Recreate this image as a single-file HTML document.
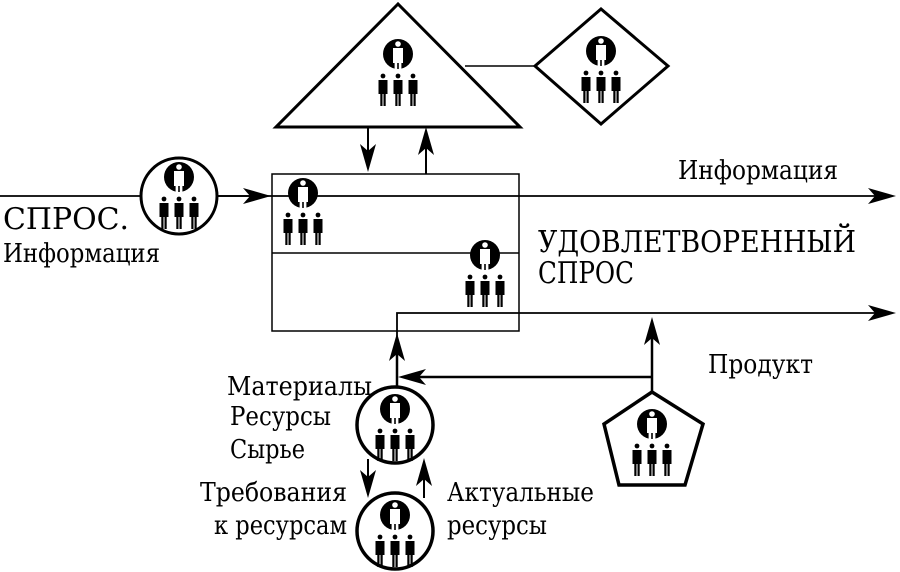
<!DOCTYPE html>
<html><head><meta charset="utf-8"><style>
html,body{margin:0;padding:0;background:#fff;}
svg{display:block}
text{font-family:"DejaVu Serif","Liberation Serif",serif;fill:#000}
</style></head><body>
<svg width="900" height="572" viewBox="0 0 900 572" xmlns="http://www.w3.org/2000/svg">
<defs>
<g id="fig">
  <circle cx="0" cy="2" r="2.4" fill="#000"/>
  <path d="M-4.5,6 h9 v14 h-1.8 v12 h-2.2 v-12 h-1 v12 h-2.2 v-12 h-1.8 z" fill="#000"/>
</g>
<g id="ic">
  <circle cx="0" cy="-19" r="15" fill="#000"/>
  <circle cx="0" cy="-29" r="2.8" fill="#fff"/>
  <path d="M-5,-25 h10 v15 h-1.6 v14 h-2.6 v-14 h-1.6 v14 h-2.6 v-14 h-1.6 z" fill="#fff"/>
  <use href="#fig" x="-15" y="1"/>
  <use href="#fig" x="0" y="1"/>
  <use href="#fig" x="15" y="1"/>
</g>
<path id="ar" d="M0,0 L-28,-8 L-21,0 L-28,8 z" fill="#000"/>
</defs>
<g stroke="#000" fill="none">
  <polygon points="398,4 276,127 520,127" stroke-width="3" fill="#fff"/>
  <line x1="465" y1="66" x2="535" y2="66" stroke-width="1.5"/>
  <polygon points="535,66 601,9 668,66 601,124" stroke-width="3" fill="#fff"/>
  <line x1="368" y1="127" x2="368" y2="160" stroke-width="2"/>
  <line x1="426" y1="174" x2="426" y2="140" stroke-width="2"/>
  <rect x="272" y="174" width="247" height="157" stroke-width="1.5"/>
  <line x1="272" y1="253" x2="519" y2="253" stroke-width="1.5"/>
  <line x1="0" y1="196" x2="880" y2="196" stroke-width="1.8"/>
  <line x1="217" y1="196" x2="255" y2="196" stroke-width="1.8"/>
  <circle cx="179" cy="196" r="38" stroke-width="3" fill="#fff"/>
  <polyline points="397,390 397,313 880,313" stroke-width="1.8"/>
  <line x1="397" y1="390" x2="397" y2="345" stroke-width="2.5"/>
  <line x1="652" y1="392" x2="652" y2="330" stroke-width="2.5"/>
  <line x1="652" y1="377" x2="410" y2="377" stroke-width="2.5"/>
  <polygon points="652,392 703,424 685,485 619,485 604,424" stroke-width="3.5" fill="#fff"/>
  <line x1="368" y1="459" x2="368" y2="485" stroke-width="2"/>
  <line x1="424" y1="498" x2="424" y2="470" stroke-width="2"/>
  <circle cx="395" cy="425" r="38" stroke-width="3.5" fill="#fff"/>
  <circle cx="395" cy="531" r="38" stroke-width="3.5" fill="#fff"/>
</g>
<use href="#ar" transform="translate(368,172) rotate(90)"/>
<use href="#ar" transform="translate(426,127) rotate(-90)"/>
<use href="#ar" transform="translate(896,196)"/>
<use href="#ar" transform="translate(271,196)"/>
<use href="#ar" transform="translate(896,313)"/>
<use href="#ar" transform="translate(397,333) rotate(-90)"/>
<use href="#ar" transform="translate(652,317) rotate(-90)"/>
<use href="#ar" transform="translate(398,377) rotate(180)"/>
<use href="#ar" transform="translate(368,498) rotate(90)"/>
<use href="#ar" transform="translate(424,458) rotate(-90)"/>
<use href="#ic" x="398" y="73"/>
<use href="#ic" x="601" y="70"/>
<use href="#ic" x="179" y="196"/>
<use href="#ic" x="303" y="212"/>
<use href="#ic" x="485" y="274"/>
<use href="#ic" x="395" y="428"/>
<use href="#ic" x="395" y="534"/>
<use href="#ic" x="652" y="443"/>
<text x="3" y="229" font-size="30" textLength="126" lengthAdjust="spacingAndGlyphs">СПРОС.</text>
<text x="3" y="262" font-size="26" textLength="157" lengthAdjust="spacingAndGlyphs">Информация</text>
<text x="678" y="179" font-size="26" textLength="160" lengthAdjust="spacingAndGlyphs">Информация</text>
<text x="538" y="252" font-size="30" textLength="318" lengthAdjust="spacingAndGlyphs">УДОВЛЕТВОРЕННЫЙ</text>
<text x="538" y="283" font-size="30" textLength="96" lengthAdjust="spacingAndGlyphs">СПРОС</text>
<text x="708" y="373" font-size="26" textLength="105" lengthAdjust="spacingAndGlyphs">Продукт</text>
<text x="227" y="395" font-size="26" textLength="145" lengthAdjust="spacingAndGlyphs">Материалы</text>
<text x="230" y="425" font-size="26" textLength="101" lengthAdjust="spacingAndGlyphs">Ресурсы</text>
<text x="230" y="458" font-size="26" textLength="75" lengthAdjust="spacingAndGlyphs">Сырье</text>
<text x="200" y="501" font-size="26" textLength="147" lengthAdjust="spacingAndGlyphs">Требования</text>
<text x="214" y="534" font-size="26" textLength="133" lengthAdjust="spacingAndGlyphs">к ресурсам</text>
<text x="447" y="501" font-size="26" textLength="147" lengthAdjust="spacingAndGlyphs">Актуальные</text>
<text x="447" y="534" font-size="26" textLength="100" lengthAdjust="spacingAndGlyphs">ресурсы</text>
</svg>
</body></html>
